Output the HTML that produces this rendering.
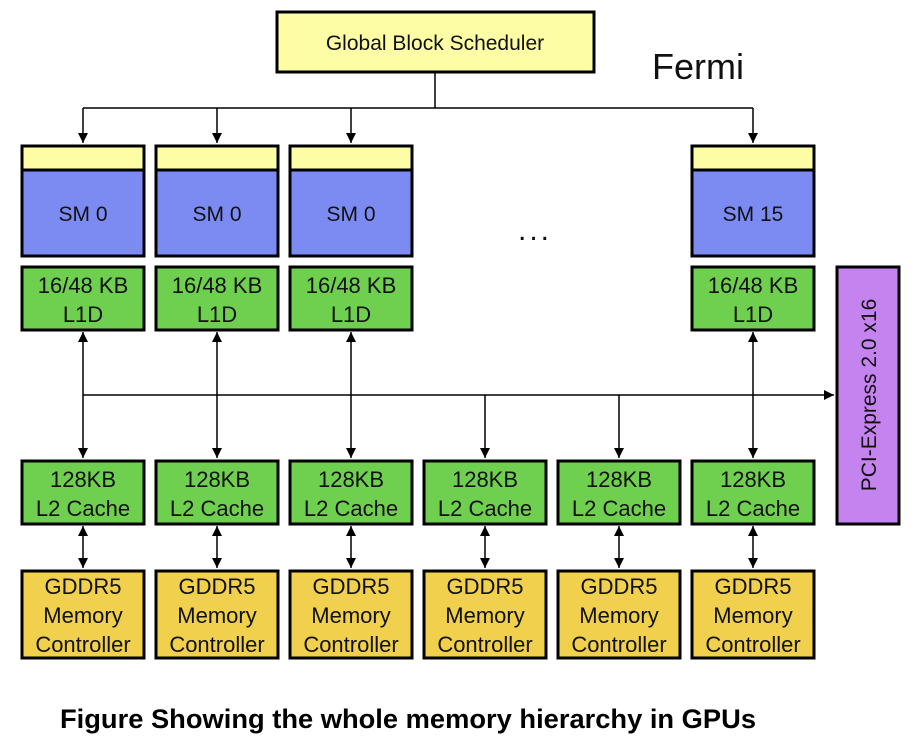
<!DOCTYPE html>
<html><head><meta charset="utf-8"><style>
html,body{margin:0;padding:0;background:#fff;width:918px;height:754px;overflow:hidden}
svg{display:block}
text{font-family:"Liberation Sans",Arial,sans-serif;fill:#111}
</style></head><body>
<svg width="918" height="754" viewBox="0 0 918 754" xmlns="http://www.w3.org/2000/svg">
<defs>
<marker id="a" viewBox="0 0 10 10" refX="10" refY="5" markerWidth="10" markerHeight="10" markerUnits="userSpaceOnUse" orient="auto-start-reverse"><path d="M0,0 L10,5 L0,10 z" fill="#000"/></marker>
</defs>
<g stroke="#000" stroke-width="1.5" fill="none">
<line x1="435" y1="73" x2="435" y2="108"/>
<line x1="83" y1="108" x2="753" y2="108"/>
<line x1="83" y1="108" x2="83" y2="143" marker-end="url(#a)"/>
<line x1="217" y1="108" x2="217" y2="143" marker-end="url(#a)"/>
<line x1="351" y1="108" x2="351" y2="143" marker-end="url(#a)"/>
<line x1="753" y1="108" x2="753" y2="143" marker-end="url(#a)"/>
<line x1="83" y1="395" x2="834" y2="395" marker-end="url(#a)"/>
<line x1="83" y1="332" x2="83" y2="458" marker-start="url(#a)" marker-end="url(#a)"/>
<line x1="217" y1="332" x2="217" y2="458" marker-start="url(#a)" marker-end="url(#a)"/>
<line x1="351" y1="332" x2="351" y2="458" marker-start="url(#a)" marker-end="url(#a)"/>
<line x1="753" y1="332" x2="753" y2="458" marker-start="url(#a)" marker-end="url(#a)"/>
<line x1="485" y1="395" x2="485" y2="458" marker-end="url(#a)"/>
<line x1="619" y1="395" x2="619" y2="458" marker-end="url(#a)"/>
<line x1="83" y1="526" x2="83" y2="568" marker-start="url(#a)" marker-end="url(#a)"/>
<line x1="217" y1="526" x2="217" y2="568" marker-start="url(#a)" marker-end="url(#a)"/>
<line x1="351" y1="526" x2="351" y2="568" marker-start="url(#a)" marker-end="url(#a)"/>
<line x1="485" y1="526" x2="485" y2="568" marker-start="url(#a)" marker-end="url(#a)"/>
<line x1="619" y1="526" x2="619" y2="568" marker-start="url(#a)" marker-end="url(#a)"/>
<line x1="753" y1="526" x2="753" y2="568" marker-start="url(#a)" marker-end="url(#a)"/>
</g>
<g stroke="#000" stroke-width="3">
<rect x="277" y="12" width="317" height="60" fill="#fdfda6"/>
<rect x="837" y="267" width="62" height="257" fill="#c583f0"/>
</g>
<text x="435" y="50" font-size="21" text-anchor="middle">Global Block Scheduler</text>
<text x="652" y="79" font-size="36">Fermi</text>
<text x="535" y="240" font-size="30" text-anchor="middle" letter-spacing="3">...</text>
<text transform="translate(876,395) rotate(-90)" font-size="21" text-anchor="middle">PCI-Express 2.0 x16</text>
<g stroke="#000" stroke-width="3">
<rect x="22" y="146" width="122" height="24" fill="#fdfda6"/><rect x="22" y="170" width="122" height="86" fill="#7b8bf2"/>
<rect x="156" y="146" width="122" height="24" fill="#fdfda6"/><rect x="156" y="170" width="122" height="86" fill="#7b8bf2"/>
<rect x="290" y="146" width="122" height="24" fill="#fdfda6"/><rect x="290" y="170" width="122" height="86" fill="#7b8bf2"/>
<rect x="692" y="146" width="122" height="24" fill="#fdfda6"/><rect x="692" y="170" width="122" height="86" fill="#7b8bf2"/>
<rect x="22" y="267" width="122" height="63" fill="#6fcf4f"/>
<rect x="156" y="267" width="122" height="63" fill="#6fcf4f"/>
<rect x="290" y="267" width="122" height="63" fill="#6fcf4f"/>
<rect x="692" y="267" width="122" height="63" fill="#6fcf4f"/>
<rect x="22" y="461" width="122" height="63" fill="#6fcf4f"/>
<rect x="156" y="461" width="122" height="63" fill="#6fcf4f"/>
<rect x="290" y="461" width="122" height="63" fill="#6fcf4f"/>
<rect x="424" y="461" width="122" height="63" fill="#6fcf4f"/>
<rect x="558" y="461" width="122" height="63" fill="#6fcf4f"/>
<rect x="692" y="461" width="122" height="63" fill="#6fcf4f"/>
<rect x="22" y="571" width="122" height="87" fill="#f0d04c"/>
<rect x="156" y="571" width="122" height="87" fill="#f0d04c"/>
<rect x="290" y="571" width="122" height="87" fill="#f0d04c"/>
<rect x="424" y="571" width="122" height="87" fill="#f0d04c"/>
<rect x="558" y="571" width="122" height="87" fill="#f0d04c"/>
<rect x="692" y="571" width="122" height="87" fill="#f0d04c"/>
</g>
<g font-size="21" text-anchor="middle">
<text x="83" y="221">SM 0</text><text x="217" y="221">SM 0</text><text x="351" y="221">SM 0</text><text x="753" y="221">SM 15</text>
</g>
<g font-size="22" text-anchor="middle">
<text x="83" y="293">16/48 KB</text><text x="83" y="322">L1D</text>
<text x="217" y="293">16/48 KB</text><text x="217" y="322">L1D</text>
<text x="351" y="293">16/48 KB</text><text x="351" y="322">L1D</text>
<text x="753" y="293">16/48 KB</text><text x="753" y="322">L1D</text>
<text x="83" y="487">128KB</text><text x="83" y="516">L2 Cache</text>
<text x="217" y="487">128KB</text><text x="217" y="516">L2 Cache</text>
<text x="351" y="487">128KB</text><text x="351" y="516">L2 Cache</text>
<text x="485" y="487">128KB</text><text x="485" y="516">L2 Cache</text>
<text x="619" y="487">128KB</text><text x="619" y="516">L2 Cache</text>
<text x="753" y="487">128KB</text><text x="753" y="516">L2 Cache</text>
</g>
<g font-size="22" text-anchor="middle">
<text x="83" y="594">GDDR5</text><text x="83" y="623">Memory</text><text x="83" y="652">Controller</text>
<text x="217" y="594">GDDR5</text><text x="217" y="623">Memory</text><text x="217" y="652">Controller</text>
<text x="351" y="594">GDDR5</text><text x="351" y="623">Memory</text><text x="351" y="652">Controller</text>
<text x="485" y="594">GDDR5</text><text x="485" y="623">Memory</text><text x="485" y="652">Controller</text>
<text x="619" y="594">GDDR5</text><text x="619" y="623">Memory</text><text x="619" y="652">Controller</text>
<text x="753" y="594">GDDR5</text><text x="753" y="623">Memory</text><text x="753" y="652">Controller</text>
</g>
<text x="60" y="728" font-size="27" font-weight="bold" textLength="696" lengthAdjust="spacingAndGlyphs" style="fill:#000">Figure Showing the whole memory hierarchy in GPUs</text>
</svg>
</body></html>
